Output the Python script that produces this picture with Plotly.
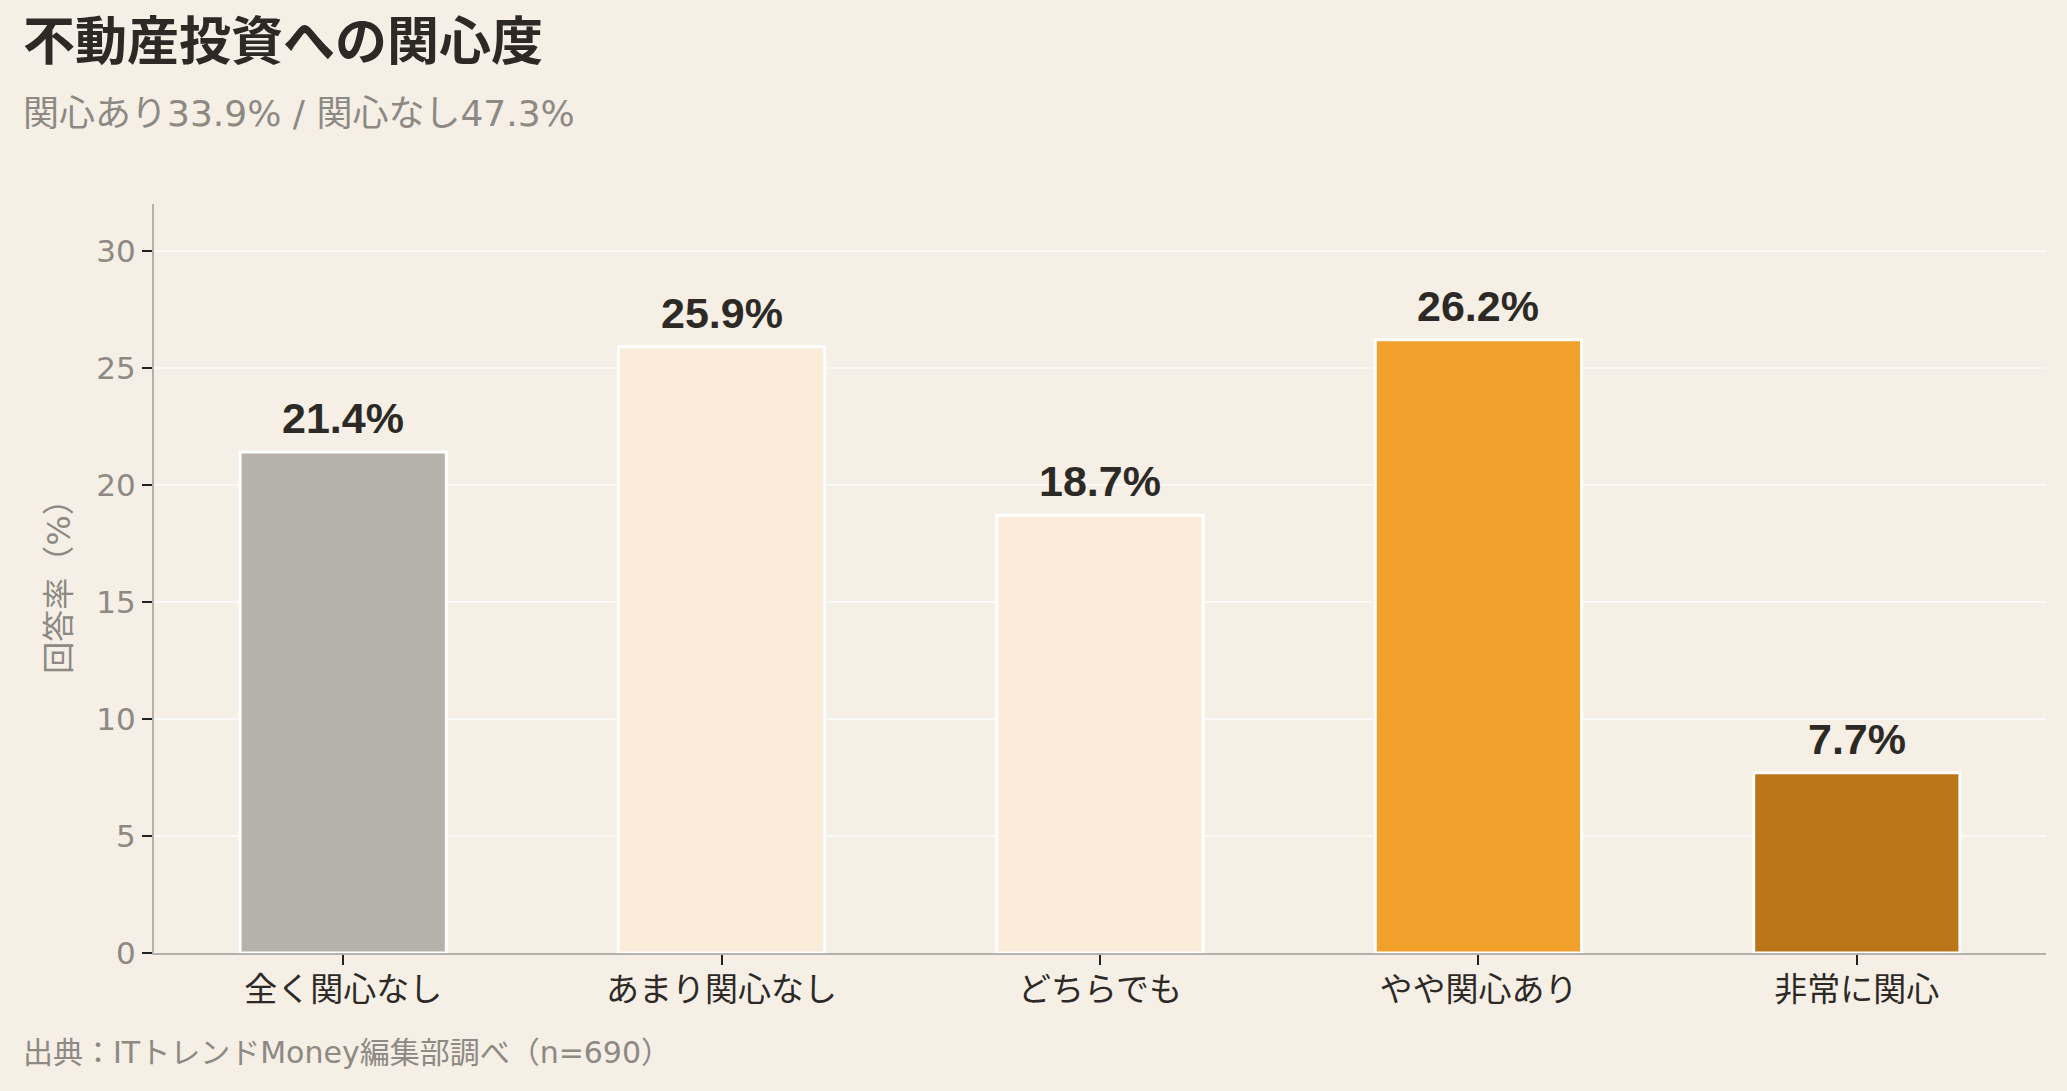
import plotly.graph_objects as go

categories = ["全く関心なし", "あまり関心なし", "どちらでも", "やや関心あり", "非常に関心"]
values = [21.4, 25.9, 18.7, 26.2, 7.7]
bar_colors = ["#b5b2aa", "#faecd9", "#faecd9", "#f0a02b", "#bb7619"]
value_labels = [f"{v:.1f}%" for v in values]
y_ticks = [0, 5, 10, 15, 20, 25, 30]

title_text = "不動産投資への関心度"
subtitle_text = "関心あり33.9% / 関心なし47.3%"
source_text = "出典：ITトレンドMoney編集部調べ（n=690）"
y_title = "回答率（%）"

W, H = 2067, 1091
L, R, T, B = 154, 21, 204, 138
FONT = "Liberation Sans, Noto Sans CJK JP, sans-serif"
FONT_W = "DejaVu Sans, Noto Sans CJK JP, sans-serif"
BG = "#f5efe6"
DARK = "#2d2a26"
GRAY = "#8c8a83"


def px_x(px):
    return (px - L) / (W - L - R)


def px_y(py):
    return (H - B - py) / (H - T - B)


fig = go.Figure()
fig.add_trace(go.Bar(
    x=categories,
    y=values,
    width=0.545,
    marker=dict(color=bar_colors, line=dict(color="#ffffff", width=3)),
    cliponaxis=False,
    hoverinfo="x+y",
))

for cat, val, lab in zip(categories, values, value_labels):
    fig.add_annotation(
        x=cat, y=val, text=f"<b>{lab}</b>", showarrow=False,
        xanchor="center", yanchor="middle", yshift=34,
        font=dict(family=FONT, size=43, color=DARK),
    )

fig.update_layout(
    width=W, height=H,
    margin=dict(l=L, r=R, t=T, b=B),
    paper_bgcolor=BG,
    plot_bgcolor=BG,
    showlegend=False,
    font=dict(family=FONT, color=DARK),
    xaxis=dict(
        type="category",
        range=[-0.5, 4.5],
        showline=True, linecolor="#b5b2aa", linewidth=2,
        ticks="outside", ticklen=10, tickwidth=2, tickcolor="#222222",
        tickfont=dict(family=FONT, size=33, color=DARK),
        ticklabelstandoff=-4,
        showgrid=False,
    ),
    yaxis=dict(
        range=[0, 32],
        tickvals=y_ticks,
        showline=True, linecolor="#b5b2aa", linewidth=2,
        ticks="outside", ticklen=10, tickwidth=2, tickcolor="#222222",
        tickfont=dict(family=FONT_W, size=31, color=GRAY),
        showgrid=True, gridcolor="#fbf9f5", gridwidth=2,
        zeroline=False,
        title=dict(text=y_title, font=dict(family=FONT_W, size=32, color=GRAY), standoff=16),
    ),
)

fig.add_annotation(
    text=f"<b>{title_text}</b>", xref="paper", yref="paper",
    x=px_x(21), y=px_y(42), xanchor="left", yanchor="middle",
    showarrow=False, font=dict(family=FONT, size=52, color=DARK),
)
fig.add_annotation(
    text=subtitle_text, xref="paper", yref="paper",
    x=px_x(21), y=px_y(114), xanchor="left", yanchor="middle",
    showarrow=False, font=dict(family=FONT_W, size=36, color=GRAY),
)
fig.add_annotation(
    text=source_text, xref="paper", yref="paper",
    x=px_x(21), y=px_y(1052), xanchor="left", yanchor="middle",
    showarrow=False, font=dict(family=FONT_W, size=30, color=GRAY),
)

fig.write_html("out.html")
